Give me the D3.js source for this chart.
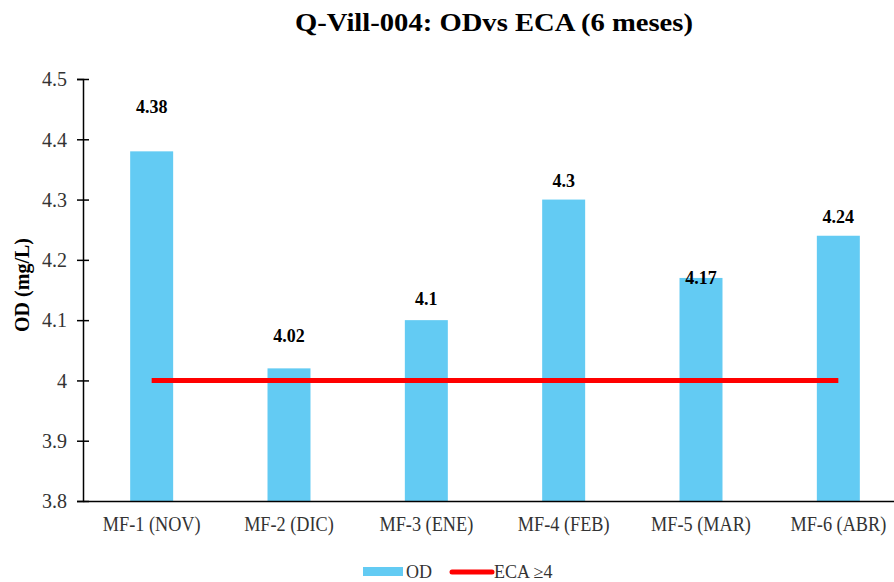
<!DOCTYPE html>
<html>
<head>
<meta charset="utf-8">
<script src="https://cdn.jsdelivr.net/npm/d3@7"></script>
<style>
  body { margin: 0; background: #fff; }
  svg text { font-family: "Liberation Serif", "Times New Roman", Times, serif; }
</style>
</head>
<body>
<div id="chart"></div>
<script>
// data
var categories = ["MF-1 (NOV)", "MF-2 (DIC)", "MF-3 (ENE)", "MF-4 (FEB)", "MF-5 (MAR)", "MF-6 (ABR)"];
var odValues = [4.38, 4.02, 4.1, 4.3, 4.17, 4.24];
var ecaValues = [4, 4, 4, 4, 4, 4];
var yTicks = [3.8, 3.9, 4, 4.1, 4.2, 4.3, 4.4, 4.5];

// pixel lift of each value label above its bar (as placed in the original)
var labelLift = [38, 26, 15, 13, -6, 13];

var width = 894, height = 582;
var margin = {top: 79, left: 83, bottom: 81};
var plotRight = 907;

var svg = d3.select("#chart").append("svg")
    .attr("width", width)
    .attr("height", height);

var x = d3.scaleBand()
    .domain(categories)
    .range([margin.left, plotRight]);

var y = d3.scaleLinear()
    .domain([3.8, 4.5])
    .range([height - margin.bottom, margin.top]);

var barW = x.bandwidth() * 0.313;

// title
svg.append("text")
    .attr("x", 494)
    .attr("y", 31)
    .attr("text-anchor", "middle")
    .attr("textLength", 398)
    .attr("lengthAdjust", "spacingAndGlyphs")
    .style("font-size", "25px")
    .style("font-weight", "bold")
    .text("Q-Vill-004: ODvs ECA (6 meses)");

// bars
svg.selectAll("rect.bar").data(odValues)
    .enter()
    .append("rect")
    .attr("class", "bar")
    .attr("x", function (d, i) { return x(categories[i]) + x.bandwidth() / 2 - barW / 2; })
    .attr("y", function (d) { return y(d); })
    .attr("width", barW)
    .attr("height", function (d) { return y(3.8) - y(d); })
    .attr("fill", "#63CBF3");

// value labels
svg.selectAll("text.val").data(odValues)
    .enter()
    .append("text")
    .attr("class", "val")
    .attr("x", function (d, i) { return x(categories[i]) + x.bandwidth() / 2; })
    .attr("y", function (d, i) { return y(d) - labelLift[i]; })
    .attr("text-anchor", "middle")
    .style("font-size", "18px")
    .style("font-weight", "bold")
    .text(function (d) { return d; });

// ECA line
var line = d3.line()
    .x(function (d, i) { return x(categories[i]) + x.bandwidth() / 2; })
    .y(function (d) { return y(d); });

svg.append("path")
    .datum(ecaValues)
    .attr("d", line)
    .attr("fill", "none")
    .attr("stroke", "#FF0000")
    .attr("stroke-width", 5);

// y axis
var yAxis = svg.append("g")
    .attr("transform", "translate(" + margin.left + ",0)")
    .call(d3.axisLeft(y).tickValues(yTicks).tickFormat(d3.format("")).tickSizeOuter(0).tickSize(6))
    .attr("font-family", null);

yAxis.select(".domain").attr("stroke", "#000").attr("stroke-width", 1.5);
yAxis.selectAll(".tick line").attr("stroke", "#000").attr("stroke-width", 1.5).attr("x2", 6).attr("x1", -6);
yAxis.selectAll(".tick text")
    .attr("x", -16)
    .attr("dy", "0.34em")
    .style("font-size", "20px")
    .attr("fill", "#333");

// x axis
var xAxis = svg.append("g")
    .attr("transform", "translate(0," + y(3.8) + ")")
    .call(d3.axisBottom(x).tickSize(0).tickSizeOuter(0))
    .attr("font-family", null);

xAxis.select(".domain").attr("stroke", "#000").attr("stroke-width", 1.5);
xAxis.selectAll(".tick text")
    .attr("dy", 0)
    .attr("y", 30)
    .attr("transform", "scale(0.83,1)")
    .style("font-size", "22px")
    .attr("fill", "#333");

// y label
svg.append("text")
    .attr("transform", "translate(29,285) rotate(-90)")
    .attr("text-anchor", "middle")
    .style("font-size", "20px")
    .style("font-weight", "bold")
    .text("OD (mg/L)");

// legend
var legend = svg.append("g").attr("transform", "translate(0,572)");
legend.append("rect")
    .attr("x", 363).attr("y", -5).attr("width", 40).attr("height", 9)
    .attr("fill", "#63CBF3");
legend.append("text")
    .attr("x", 406).attr("y", 6)
    .style("font-size", "18px")
    .attr("fill", "#333")
    .text("OD");
legend.append("line")
    .attr("x1", 452).attr("x2", 492).attr("y1", 0).attr("y2", 0)
    .attr("stroke", "#FF0000").attr("stroke-width", 5).attr("stroke-linecap", "round");
legend.append("text")
    .attr("x", 494).attr("y", 6)
    .style("font-size", "18px")
    .attr("fill", "#333")
    .text("ECA ≥4");
</script>
</body>
</html>
